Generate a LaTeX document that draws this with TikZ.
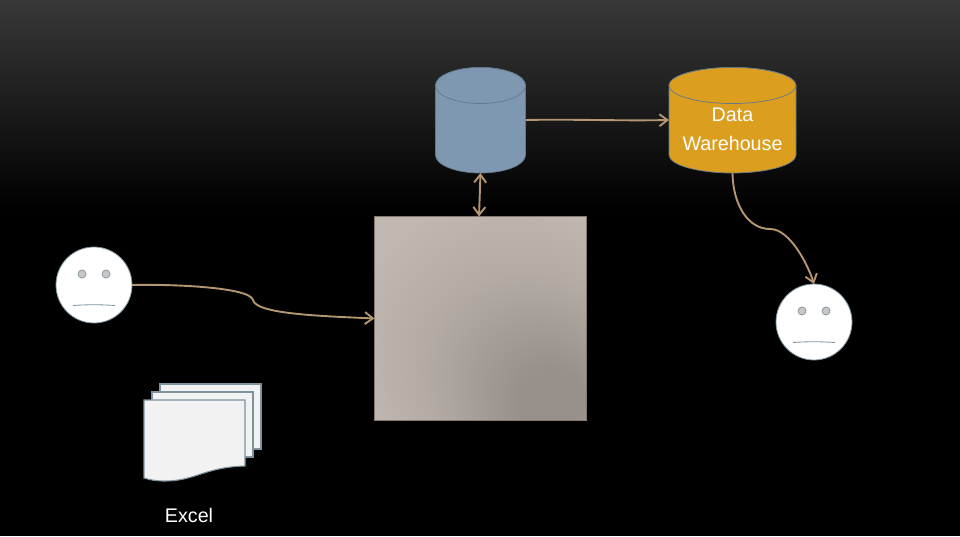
\documentclass[tikz,border=0pt]{standalone}
\usepackage{fontspec}
\setmainfont{Liberation Sans}
\usetikzlibrary{arrows.meta}
\definecolor{linktan}{HTML}{B59672}
\definecolor{edgeblue}{HTML}{7F929E}
\definecolor{dbedge}{HTML}{63798A}
\definecolor{dbblue}{HTML}{7F98B2}
\definecolor{dbgold}{HTML}{DB9E1E}
\definecolor{applight}{HTML}{C0B7B0}
\definecolor{appmid}{HTML}{B3ABA4}
\definecolor{appdark}{HTML}{98908B}
\definecolor{appedge}{HTML}{857A70}
\pgfdeclareradialshading{appglow}{\pgfpoint{20bp}{-24bp}}{
  color(0bp)=(appdark); color(8bp)=(appdark); color(24bp)=(appmid); color(36bp)=(applight); color(50bp)=(applight)}
\tikzset{
  dbframe/.style={minimum height=106pt,inner sep=0pt,outer sep=0pt},
  dbbody/.style={draw=dbedge,line width=.7pt},
  dbtext/.style={align=center,text=white,inner sep=0pt,font=\fontsize{19.7}{29}\selectfont},
  face/.style={circle,fill=white,draw=edgeblue,line width=.8pt,minimum size=76pt,inner sep=0pt,outer sep=0pt},
  eye/.style={circle,fill=black!22,draw=edgeblue,line width=.7pt,minimum size=8pt,inner sep=0pt},
  mouth/.style={draw=edgeblue,line width=.8pt},
  sheet/.style={fill=black!5,draw=edgeblue,line width=1.1pt},
  barb/.tip={Straight Barb[length=8pt,width=12pt,line width=1.9pt]},
  link/.style={draw=linktan,line width=1.9pt,-barb},
  linkboth/.style={draw=linktan,line width=1.9pt,barb-barb},
  caption/.style={text=white,font=\fontsize{19.7}{24}\selectfont,inner sep=0pt},
  appbox/.style={minimum width=212pt,minimum height=204pt,inner sep=0pt,outer sep=0pt,draw=appedge,line width=.7pt,fill=applight,shading=appglow},
}
\begin{document}
\begin{tikzpicture}[x=1pt,y=-1pt]
\useasboundingbox (0,0) rectangle (960,536);
\fill[black] (0,0) rectangle (960,536);
\shade[top color=black!78,bottom color=black] (0,0) rectangle (960,210);
\node[appbox] (app) at (480.5,318.5) {};
% blue database
\path[dbbody,fill=dbblue] (435.5,85.5) arc[x radius=45,y radius=18,start angle=180,end angle=360] -- (525.5,155) arc[x radius=45,y radius=18,start angle=0,end angle=180] -- cycle;
\path[dbbody,fill=dbblue] (480.5,85.5) ellipse[x radius=45,y radius=18];
\node[dbframe,minimum width=91pt] (blue) at (480.5,120) {};
% gold database
\path[dbbody,fill=dbgold] (669,85.5) arc[x radius=63.5,y radius=18,start angle=180,end angle=360] -- (796,155) arc[x radius=63.5,y radius=18,start angle=0,end angle=180] -- cycle;
\path[dbbody,fill=dbgold] (732.5,85.5) ellipse[x radius=63.5,y radius=18];
\node[dbframe,minimum width=127pt] (gold) at (732.5,120) {};
\node[dbtext] (goldlabel) at (732.5,129.5) {Data\\Warehouse};
\node[face] (userA) at (94,285) {};
\node[eye] (userAeyeL) at (82,274) {};
\node[eye] (userAeyeR) at (106,274) {};
\draw[mouth] (73,305.5) .. controls (87,304.5) and (101,304.5) .. (115,305.5);
\node[face] (userB) at (814,322) {};
\node[eye] (userBeyeL) at (802,311) {};
\node[eye] (userBeyeR) at (826,311) {};
\draw[mouth] (793,342.5) .. controls (807,341.5) and (821,341.5) .. (835,342.5);
\draw[sheet] (160,384) rectangle (261,449);
\draw[sheet] (152,392) rectangle (253,457);
\draw[sheet] (144,400) -- (245,400) -- (245,466) .. controls (205,467) and (195,481) .. (165,481) .. controls (157,481) and (150,480) .. (144,478) -- cycle;
\node[caption] (excel) at (189,515) {Excel};
\coordinate (bendA) at (253,300);
\coordinate (bendB) at (770,229);
\draw[link] (userA.east) .. controls (170,284) and (250,287) .. (bendA) .. controls (256,314) and (320,316) .. (app.west);
\draw[link] (blue.east) .. controls (570,119) and (620,121) .. (gold.west);
\draw[linkboth] (blue.south) -- ([xshift=-1.5pt]app.north);
\draw[link] (gold.south) .. controls (733,205) and (748,229) .. (bendB) .. controls (790,229) and (808,265) .. (userB.north);
\end{tikzpicture}
\end{document}
